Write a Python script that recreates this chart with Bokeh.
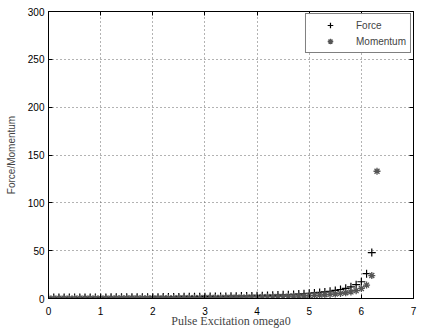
from bokeh.plotting import figure
from bokeh.models import LinearAxis, FixedTicker, Legend, LegendItem, Range1d
from bokeh.embed import file_html
from bokeh.resources import INLINE

omega_force = [0.0, 0.1, 0.2, 0.3, 0.4, 0.5, 0.6, 0.7, 0.8, 0.9,
               1.0, 1.1, 1.2, 1.3, 1.4, 1.5, 1.6, 1.7, 1.8, 1.9,
               2.0, 2.1, 2.2, 2.3, 2.4, 2.5, 2.6, 2.7, 2.8, 2.9,
               3.0, 3.1, 3.2, 3.3, 3.4, 3.5, 3.6, 3.7, 3.8, 3.9,
               4.0, 4.1, 4.2, 4.3, 4.4, 4.5, 4.6, 4.7, 4.8, 4.9,
               5.0, 5.1, 5.2, 5.3, 5.4, 5.5, 5.6, 5.7, 5.8, 5.9,
               6.0, 6.1, 6.2]
force = [1.0, 1.0, 1.0, 1.0, 1.0, 1.0, 1.0, 1.1, 1.1, 1.1,
         1.1, 1.1, 1.2, 1.2, 1.2, 1.2, 1.3, 1.3, 1.3, 1.4,
         1.4, 1.4, 1.5, 1.5, 1.6, 1.6, 1.7, 1.7, 1.8, 1.8,
         1.9, 2.0, 2.0, 2.1, 2.2, 2.3, 2.4, 2.5, 2.6, 2.7,
         2.9, 3.0, 3.2, 3.4, 3.6, 3.8, 4.0, 4.3, 4.6, 5.0,
         5.4, 5.8, 6.3, 6.9, 7.6, 8.4, 9.4, 10.6, 12.2, 14.4,
         17.5, 26.0, 48.0]

omega_momentum = [0.0, 0.1, 0.2, 0.3, 0.4, 0.5, 0.6, 0.7, 0.8, 0.9,
                  1.0, 1.1, 1.2, 1.3, 1.4, 1.5, 1.6, 1.7, 1.8, 1.9,
                  2.0, 2.1, 2.2, 2.3, 2.4, 2.5, 2.6, 2.7, 2.8, 2.9,
                  3.0, 3.1, 3.2, 3.3, 3.4, 3.5, 3.6, 3.7, 3.8, 3.9,
                  4.0, 4.1, 4.2, 4.3, 4.4, 4.5, 4.6, 4.7, 4.8, 4.9,
                  5.0, 5.1, 5.2, 5.3, 5.4, 5.5, 5.6, 5.7, 5.8, 5.9,
                  6.0, 6.1, 6.2, 6.3]
momentum = [0.3, 0.3, 0.3, 0.3, 0.3, 0.3, 0.4, 0.4, 0.4, 0.4,
            0.4, 0.4, 0.4, 0.5, 0.5, 0.5, 0.5, 0.5, 0.6, 0.6,
            0.6, 0.6, 0.7, 0.7, 0.7, 0.8, 0.8, 0.8, 0.9, 0.9,
            1.0, 1.0, 1.1, 1.1, 1.2, 1.3, 1.3, 1.4, 1.5, 1.6,
            1.7, 1.8, 1.9, 2.0, 2.1, 2.2, 2.4, 2.5, 2.7, 2.9,
            3.1, 3.3, 3.6, 3.9, 4.3, 4.7, 5.3, 6.0, 6.9, 8.2,
            10.5, 14.0, 24.0, 133.0]

x_ticks = [0, 1, 2, 3, 4, 5, 6, 7]
y_ticks = [0, 50, 100, 150, 200, 250, 300]

p = figure(frame_width=365, frame_height=287, output_backend="svg", toolbar_location=None,
           x_range=Range1d(0, 7), y_range=Range1d(0, 300),
           min_border_left=48, min_border_right=9, min_border_top=11, min_border_bottom=28,
           background_fill_color="white", border_fill_color="white")

p.outline_line_color = "black"
p.outline_line_width = 1

r_force = p.scatter(omega_force, force, marker="cross", size=8, line_color="black", line_width=1.2)
r_mom = p.scatter(omega_momentum, momentum, marker="asterisk", size=7, line_color="#555555", line_width=1.3)

for ax in (p.xaxis[0], p.yaxis[0]):
    ax.major_tick_in = 4
    ax.major_tick_out = 0
    ax.minor_tick_in = 0
    ax.minor_tick_out = 0
    ax.axis_line_color = "black"
    ax.major_label_text_font = "Liberation Sans"
    ax.major_label_text_font_size = "10px"
    ax.major_label_text_color = "black"
    ax.major_label_standoff = 4

p.xaxis[0].major_label_standoff = 8
p.xaxis[0].ticker = FixedTicker(ticks=x_ticks)
p.yaxis[0].ticker = FixedTicker(ticks=y_ticks)

p.xaxis[0].axis_label = "Pulse Excitation omega0"
p.xaxis[0].axis_label_text_font = "Liberation Serif"
p.xaxis[0].axis_label_text_font_style = "normal"
p.xaxis[0].axis_label_text_font_size = "12px"
p.xaxis[0].axis_label_standoff = -4

p.yaxis[0].axis_label = "Force/Momentum"
p.yaxis[0].axis_label_text_font = "Liberation Sans"
p.yaxis[0].axis_label_text_font_style = "normal"
p.yaxis[0].axis_label_text_font_size = "10px"
p.yaxis[0].axis_label_standoff = 8

top = LinearAxis(ticker=FixedTicker(ticks=x_ticks), major_tick_in=4, major_tick_out=0,
                 minor_tick_in=0, minor_tick_out=0,
                 major_label_overrides={t: "" for t in x_ticks},
                 major_label_standoff=0, axis_line_color="black")
right = LinearAxis(ticker=FixedTicker(ticks=y_ticks), major_tick_in=4, major_tick_out=0,
                   minor_tick_in=0, minor_tick_out=0,
                   major_label_overrides={t: "" for t in y_ticks},
                   major_label_standoff=0, axis_line_color="black")
p.add_layout(top, "above")
p.add_layout(right, "right")

for g in (p.xgrid[0], p.ygrid[0]):
    g.grid_line_color = "#666666"
    g.grid_line_dash = "1 3"
    g.grid_line_width = 1

legend = Legend(items=[LegendItem(label="Force", renderers=[r_force]),
                       LegendItem(label="Momentum", renderers=[r_mom])],
                location="top_right")
legend.border_line_color = "black"
legend.border_line_width = 1
legend.label_text_font = "Liberation Sans"
legend.label_text_font_size = "10px"
legend.label_height = 14
legend.glyph_height = 14
legend.glyph_width = 40
legend.spacing = 2
legend.padding = 4
legend.margin = 2
legend.label_standoff = 6
p.add_layout(legend)

open("out.html", "w").write(file_html(p, INLINE))
